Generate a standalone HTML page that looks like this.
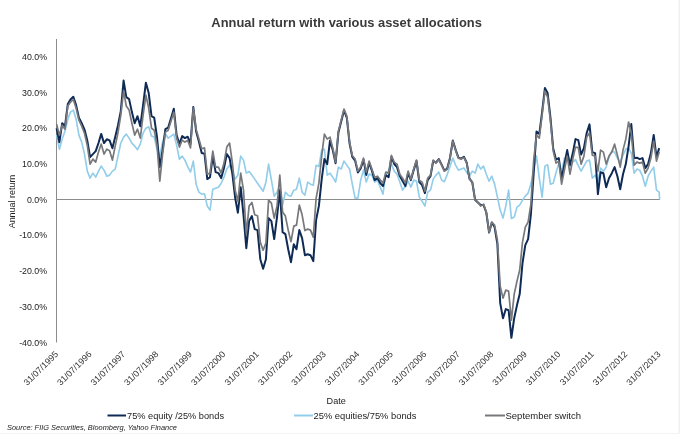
<!DOCTYPE html>
<html><head><meta charset="utf-8"><title>Annual return with various asset allocations</title>
<style>
html,body{margin:0;padding:0;background:#fff;}
body{width:680px;height:434px;overflow:hidden;position:relative;font-family:"Liberation Sans",Arial,sans-serif;}
svg{position:absolute;left:0;top:0;display:block;}
text{font-family:"Liberation Sans",Arial,sans-serif;}
</style></head><body>
<svg width="680" height="434" viewBox="0 0 680 434">
<rect x="0" y="0" width="680" height="434" fill="#ffffff"/>
<rect x="678.5" y="0" width="1.5" height="434" fill="#f0f0f0"/>
<rect x="0" y="433" width="680" height="1" fill="#f4f4f4"/>
<text x="346.6" y="26.5" text-anchor="middle" font-size="12.88" font-weight="bold" fill="#3a3a3a">Annual return with various asset allocations</text>
<line x1="56.5" y1="39" x2="56.5" y2="342.5" stroke="#8c8c8c" stroke-width="1"/>
<line x1="56" y1="199.5" x2="660" y2="199.5" stroke="#8c8c8c" stroke-width="1"/>
<text x="47" y="59.7" text-anchor="end" font-size="8.8" fill="#222">40.0%</text>
<text x="47" y="95.5" text-anchor="end" font-size="8.8" fill="#222">30.0%</text>
<text x="47" y="131.2" text-anchor="end" font-size="8.8" fill="#222">20.0%</text>
<text x="47" y="166.9" text-anchor="end" font-size="8.8" fill="#222">10.0%</text>
<text x="47" y="202.7" text-anchor="end" font-size="8.8" fill="#222">0.0%</text>
<text x="47" y="238.4" text-anchor="end" font-size="8.8" fill="#222">-10.0%</text>
<text x="47" y="274.2" text-anchor="end" font-size="8.8" fill="#222">-20.0%</text>
<text x="47" y="309.9" text-anchor="end" font-size="8.8" fill="#222">-30.0%</text>
<text x="47" y="345.7" text-anchor="end" font-size="8.8" fill="#222">-40.0%</text>
<text transform="translate(15.4,201.5) rotate(-90)" text-anchor="middle" font-size="8.95" fill="#222">Annual return</text>
<text transform="translate(58.7,354.7) rotate(-45)" text-anchor="end" font-size="8.9" fill="#333">31/07/1995</text>
<text transform="translate(92.2,354.7) rotate(-45)" text-anchor="end" font-size="8.9" fill="#333">31/07/1996</text>
<text transform="translate(125.7,354.7) rotate(-45)" text-anchor="end" font-size="8.9" fill="#333">31/07/1997</text>
<text transform="translate(159.1,354.7) rotate(-45)" text-anchor="end" font-size="8.9" fill="#333">31/07/1998</text>
<text transform="translate(192.6,354.7) rotate(-45)" text-anchor="end" font-size="8.9" fill="#333">31/07/1999</text>
<text transform="translate(226.1,354.7) rotate(-45)" text-anchor="end" font-size="8.9" fill="#333">31/07/2000</text>
<text transform="translate(259.6,354.7) rotate(-45)" text-anchor="end" font-size="8.9" fill="#333">31/07/2001</text>
<text transform="translate(293.1,354.7) rotate(-45)" text-anchor="end" font-size="8.9" fill="#333">31/07/2002</text>
<text transform="translate(326.5,354.7) rotate(-45)" text-anchor="end" font-size="8.9" fill="#333">31/07/2003</text>
<text transform="translate(360.0,354.7) rotate(-45)" text-anchor="end" font-size="8.9" fill="#333">31/07/2004</text>
<text transform="translate(393.5,354.7) rotate(-45)" text-anchor="end" font-size="8.9" fill="#333">31/07/2005</text>
<text transform="translate(427.0,354.7) rotate(-45)" text-anchor="end" font-size="8.9" fill="#333">31/07/2006</text>
<text transform="translate(460.5,354.7) rotate(-45)" text-anchor="end" font-size="8.9" fill="#333">31/07/2007</text>
<text transform="translate(493.9,354.7) rotate(-45)" text-anchor="end" font-size="8.9" fill="#333">31/07/2008</text>
<text transform="translate(527.4,354.7) rotate(-45)" text-anchor="end" font-size="8.9" fill="#333">31/07/2009</text>
<text transform="translate(560.9,354.7) rotate(-45)" text-anchor="end" font-size="8.9" fill="#333">31/07/2010</text>
<text transform="translate(594.4,354.7) rotate(-45)" text-anchor="end" font-size="8.9" fill="#333">31/07/2011</text>
<text transform="translate(627.9,354.7) rotate(-45)" text-anchor="end" font-size="8.9" fill="#333">31/07/2012</text>
<text transform="translate(661.3,354.7) rotate(-45)" text-anchor="end" font-size="8.9" fill="#333">31/07/2013</text>
<text x="336.2" y="404.3" text-anchor="middle" font-size="9.1" fill="#222">Date</text>
<polyline fill="none" stroke="#92cdea" stroke-width="1.65" stroke-linejoin="round" points="56.6,135.1 59.4,149.2 62.2,139.1 65.0,131.1 67.8,119.2 70.5,112.1 73.3,110.1 76.1,119.2 78.9,135.1 81.7,142.1 84.5,154.1 87.3,171.1 90.1,178.1 92.9,173.1 95.7,177.1 98.5,171.1 101.2,166.1 104.0,170.1 106.8,176.1 109.6,175.1 112.4,171.1 115.2,169.1 118.0,156.1 120.8,143.0 123.6,137.1 126.3,134.1 129.1,138.1 131.9,143.1 134.7,146.1 137.5,149.7 140.3,144.1 143.1,133.1 145.9,128.2 148.7,126.8 151.5,136.1 154.2,137.1 157.0,149.2 159.8,156.1 162.6,142.0 165.4,133.6 168.2,138.2 171.0,136.2 173.8,134.2 176.6,145.1 179.4,159.1 182.2,156.1 184.9,160.1 187.7,166.6 190.5,172.1 193.3,161.1 196.1,184.2 198.9,192.2 201.7,194.2 204.5,193.8 207.3,206.1 210.0,210.1 212.8,189.2 215.6,188.2 218.4,187.2 221.2,183.2 224.0,177.1 226.8,169.1 229.6,165.1 232.4,171.1 235.2,179.1 237.9,175.1 240.7,156.1 243.5,160.1 246.3,173.1 249.1,171.5 251.9,175.1 254.7,179.1 257.5,183.2 260.3,187.2 263.1,191.2 265.9,182.2 268.6,164.1 271.4,180.2 274.2,196.2 277.0,192.2 279.8,186.2 282.6,205.1 285.4,192.2 288.2,195.2 291.0,196.2 293.8,190.2 296.5,189.2 299.3,178.1 302.1,192.2 304.9,195.2 307.7,182.2 310.5,184.2 313.3,185.2 316.1,165.3 318.9,166.5 321.7,150.1 324.4,149.2 327.2,175.2 330.0,173.2 332.8,177.2 335.6,182.1 338.4,167.1 341.2,169.1 344.0,161.1 346.8,165.1 349.6,169.1 352.3,184.1 355.1,198.1 357.9,198.1 360.7,180.1 363.5,170.1 366.3,182.1 369.1,174.1 371.9,175.1 374.7,182.1 377.5,180.1 380.2,187.1 383.0,194.1 385.8,173.1 388.6,171.1 391.4,164.0 394.2,171.1 397.0,174.1 399.8,182.1 402.6,190.1 405.4,186.1 408.1,181.1 410.9,187.1 413.7,180.1 416.5,181.1 419.3,197.1 422.1,201.2 424.9,206.2 427.7,192.1 430.5,190.1 433.2,179.1 436.0,175.1 438.8,172.1 441.6,180.1 444.4,181.7 447.2,174.6 450.0,166.6 452.8,158.1 455.6,165.1 458.4,170.2 461.2,169.1 463.9,168.1 466.7,172.2 469.5,176.2 472.3,171.2 475.1,173.2 477.9,164.1 480.7,169.1 483.5,166.1 486.3,174.2 489.1,181.2 491.8,176.2 494.6,184.1 497.4,197.1 500.2,210.1 503.0,218.1 505.8,206.1 508.6,190.1 511.4,218.5 514.2,217.1 517.0,207.1 519.7,205.2 522.5,200.2 525.3,196.1 528.1,193.1 530.9,184.1 533.7,170.2 536.5,156.1 539.3,178.2 542.1,197.1 544.9,166.1 547.6,164.6 550.4,184.2 553.2,183.2 556.0,172.7 558.8,163.6 561.6,171.7 564.4,158.1 567.2,157.1 570.0,166.6 572.8,162.1 575.5,159.6 578.3,165.6 581.1,171.2 583.9,166.1 586.7,161.1 589.5,160.1 592.3,178.2 595.1,175.2 597.9,181.2 600.6,168.1 603.4,171.2 606.2,167.1 609.0,157.1 611.8,151.1 614.6,152.1 617.4,158.1 620.2,162.1 623.0,155.1 625.8,149.1 628.6,148.1 631.3,153.1 634.1,173.2 636.9,169.1 639.7,170.2 642.5,176.2 645.3,186.2 648.1,176.2 650.9,171.2 653.7,167.1 656.5,190.2 659.2,192.2 659.6,199.5"/>
<polyline fill="none" stroke="#0f2b55" stroke-width="2" stroke-linejoin="round" points="56.6,128.2 59.4,142.2 62.2,123.2 65.0,126.2 67.8,104.1 70.5,99.5 73.3,96.7 76.1,105.1 78.9,117.6 81.7,123.2 84.5,129.6 87.3,140.6 90.1,157.1 92.9,154.1 95.7,151.1 98.5,143.0 101.2,133.9 104.0,143.1 106.8,139.3 109.6,140.4 112.4,148.2 115.2,137.1 118.0,125.2 120.8,111.1 123.6,80.6 126.3,97.1 129.1,99.1 131.9,112.1 134.7,123.2 137.5,116.2 140.3,126.2 143.1,105.1 145.9,82.7 148.7,93.1 151.5,116.2 154.2,117.6 157.0,137.1 159.8,167.1 162.6,150.1 165.4,129.2 168.2,127.6 171.0,118.2 173.8,108.7 176.6,135.1 179.4,144.1 182.2,136.1 184.9,138.1 187.7,136.7 190.5,144.1 193.3,107.1 196.1,131.2 198.9,141.6 201.7,153.1 204.5,153.7 207.3,179.1 210.0,177.1 212.8,156.1 215.6,172.1 218.4,173.1 221.2,178.1 224.0,168.1 226.8,154.1 229.6,158.1 232.4,174.1 235.2,198.1 237.9,212.7 240.7,187.2 243.5,215.1 246.3,248.2 249.1,221.1 251.9,216.1 254.7,229.1 257.5,230.1 260.3,259.2 263.1,268.8 265.9,259.2 268.6,218.1 271.4,221.1 274.2,239.1 277.0,217.1 279.8,190.2 282.6,232.1 285.4,234.1 288.2,249.2 291.0,262.2 293.8,244.2 296.5,249.2 299.3,230.1 302.1,238.2 304.9,255.2 307.7,254.2 310.5,255.2 313.3,261.2 316.1,220.1 318.9,205.9 321.7,179.1 324.4,159.1 327.2,164.1 330.0,140.7 332.8,150.2 335.6,163.2 338.4,132.6 341.2,121.6 344.0,110.5 346.8,117.6 349.6,143.6 352.3,156.9 355.1,160.6 357.9,172.5 360.7,168.5 363.5,159.6 366.3,175.1 369.1,162.6 371.9,170.6 374.7,180.1 377.5,178.1 380.2,183.1 383.0,186.1 385.8,175.1 388.6,177.1 391.4,157.0 394.2,164.0 397.0,167.1 399.8,176.1 402.6,181.1 405.4,186.1 408.1,173.1 410.9,180.1 413.7,170.1 416.5,161.0 419.3,182.1 422.1,185.1 424.9,193.1 427.7,180.1 430.5,176.1 433.2,161.0 436.0,162.6 438.8,159.0 441.6,164.6 444.4,170.6 447.2,168.6 450.0,157.9 452.8,140.6 455.6,149.6 458.4,157.6 461.2,158.6 463.9,156.7 466.7,162.6 469.5,178.7 472.3,182.4 475.1,199.8 477.9,202.5 480.7,204.9 483.5,204.9 486.3,212.5 489.1,232.6 491.8,222.5 494.6,227.1 497.4,244.2 500.2,303.1 503.0,318.2 505.8,309.1 508.6,310.2 511.4,337.8 514.2,318.2 517.0,305.1 519.7,294.1 522.5,263.1 525.3,245.2 528.1,239.2 530.9,214.1 533.7,172.9 536.5,131.6 539.3,134.1 542.1,112.1 544.9,88.1 547.6,93.1 550.4,117.2 553.2,148.5 556.0,159.6 558.8,158.1 561.6,179.2 564.4,164.1 567.2,150.1 570.0,165.1 572.8,153.1 575.5,139.1 578.3,140.1 581.1,154.6 583.9,148.1 586.7,133.0 589.5,124.4 592.3,152.1 595.1,153.1 597.9,194.2 600.6,172.2 603.4,173.2 606.2,187.2 609.0,178.2 611.8,173.2 614.6,167.1 617.4,176.2 620.2,189.2 623.0,174.2 625.8,164.1 628.6,146.1 631.3,124.0 634.1,158.1 636.9,157.7 639.7,159.1 642.5,158.1 645.3,168.1 648.1,164.1 650.9,153.1 653.7,135.0 656.5,157.1 659.2,148.1"/>
<polyline fill="none" stroke="#77787b" stroke-width="1.7" stroke-linejoin="round" points="56.6,124.2 59.4,135.2 62.2,125.2 65.0,129.2 67.8,106.1 70.5,102.1 73.3,99.5 76.1,108.1 78.9,120.2 81.7,126.2 84.5,133.2 87.3,145.6 90.1,164.1 92.9,159.1 95.7,162.1 98.5,152.1 101.2,144.1 104.0,154.1 106.8,149.2 109.6,150.7 112.4,160.1 115.2,146.1 118.0,132.6 120.8,115.2 123.6,91.1 126.3,106.1 129.1,110.1 131.9,123.2 134.7,135.1 137.5,129.2 140.3,138.1 143.1,115.2 145.9,95.1 148.7,108.1 151.5,128.2 154.2,130.2 157.0,145.1 159.8,181.2 162.6,154.1 165.4,132.1 168.2,130.2 171.0,121.2 173.8,112.1 176.6,138.1 179.4,147.1 182.2,140.1 184.9,142.1 187.7,140.4 190.5,147.9 193.3,108.1 196.1,129.2 198.9,139.1 201.7,148.7 204.5,147.9 207.3,174.1 210.0,173.1 212.8,151.1 215.6,167.1 218.4,167.1 221.2,173.1 224.0,163.1 226.8,147.1 229.6,143.1 232.4,163.1 235.2,190.2 237.9,201.6 240.7,173.1 243.5,190.2 246.3,234.1 249.1,206.1 251.9,202.4 254.7,214.7 257.5,215.7 260.3,242.1 263.1,250.2 265.9,243.1 268.6,200.1 271.4,203.1 274.2,218.1 277.0,206.1 279.8,175.1 282.6,212.1 285.4,216.1 288.2,230.1 291.0,241.7 293.8,226.1 296.5,225.1 299.3,205.1 302.1,214.8 304.9,230.6 307.7,229.1 310.5,230.1 313.3,237.1 316.1,198.4 318.9,183.1 321.7,155.8 324.4,134.1 327.2,139.1 330.0,137.1 332.8,148.2 335.6,162.2 338.4,131.1 341.2,120.1 344.0,109.0 346.8,116.1 349.6,142.1 352.3,155.4 355.1,159.1 357.9,171.1 360.7,167.1 363.5,158.1 366.3,172.1 369.1,161.1 371.9,169.1 374.7,177.2 377.5,176.2 380.2,179.7 383.0,183.1 385.8,172.1 388.6,173.5 391.4,155.4 394.2,162.1 397.0,164.1 399.8,174.2 402.6,178.2 405.4,183.1 408.1,171.1 410.9,179.2 413.7,169.1 416.5,160.1 419.3,180.2 422.1,182.1 424.9,191.1 427.7,178.2 430.5,175.2 433.2,160.1 436.0,163.1 438.8,159.5 441.6,165.1 444.4,171.1 447.2,169.1 450.0,158.4 452.8,141.1 455.6,150.1 458.4,158.1 461.2,159.1 463.9,157.5 466.7,163.1 469.5,179.2 472.3,182.1 475.1,200.2 477.9,202.2 480.7,206.1 483.5,204.1 486.3,212.1 489.1,232.2 491.8,222.1 494.6,225.1 497.4,240.2 500.2,286.1 503.0,298.1 505.8,290.1 508.6,291.1 511.4,320.2 514.2,294.1 517.0,281.1 519.7,270.0 522.5,242.2 525.3,227.1 528.1,222.1 530.9,204.1 533.7,160.1 536.5,135.1 539.3,138.1 542.1,115.2 544.9,91.1 547.6,97.1 550.4,120.2 553.2,150.8 556.0,163.1 558.8,161.1 561.6,184.2 564.4,170.2 567.2,156.1 570.0,174.2 572.8,159.1 575.5,147.1 578.3,147.6 581.1,164.1 583.9,156.1 586.7,137.1 589.5,133.0 592.3,155.1 595.1,156.1 597.9,171.2 600.6,150.1 603.4,152.1 606.2,164.1 609.0,156.1 611.8,152.1 614.6,144.1 617.4,155.1 620.2,167.1 623.0,150.1 625.8,139.1 628.6,122.0 631.3,133.0 634.1,165.1 636.9,162.1 639.7,163.1 642.5,162.1 645.3,173.2 648.1,168.1 650.9,158.1 653.7,141.1 656.5,161.1 659.2,152.1"/>
<line x1="107.5" y1="415.5" x2="126" y2="415.5" stroke="#0f2b55" stroke-width="2"/>
<text x="127" y="419" font-size="9.3" fill="#222" textLength="97" lengthAdjust="spacingAndGlyphs">75% equity /25% bonds</text>
<line x1="294" y1="415.5" x2="313" y2="415.5" stroke="#92cdea" stroke-width="2"/>
<text x="313.5" y="419" font-size="9.3" fill="#222" textLength="103" lengthAdjust="spacingAndGlyphs">25% equities/75% bonds</text>
<line x1="485" y1="415.5" x2="505" y2="415.5" stroke="#77787b" stroke-width="2"/>
<text x="505.5" y="419" font-size="9.3" fill="#222" textLength="75.5" lengthAdjust="spacingAndGlyphs">September switch</text>
<text x="7" y="430.4" font-size="7.6" font-style="italic" fill="#222" textLength="170" lengthAdjust="spacingAndGlyphs">Source: FIIG Securities, Bloomberg, Yahoo Finance</text>
</svg></body></html>
